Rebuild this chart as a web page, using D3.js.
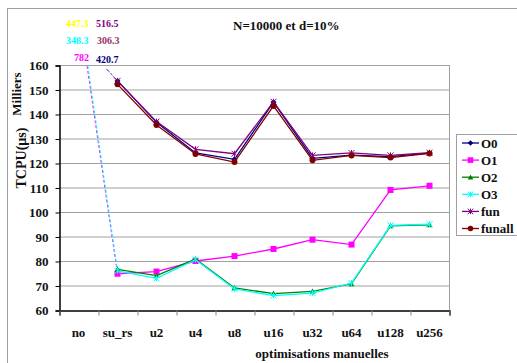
<!DOCTYPE html>
<html>
<head>
<meta charset="utf-8">
<script src="https://cdn.jsdelivr.net/npm/d3@7"></script>
<style>
body { margin: 0; background: #fff; }
</style>
</head>
<body>
<svg></svg>
<script>
const width = 517;
const height = 363;
const font = "'Liberation Serif', 'Times New Roman', serif";

// data
var categories = ["no", "su_rs", "u2", "u4", "u8", "u16", "u32", "u64", "u128", "u256"];
var seriesNames = ["O0", "O1", "O2", "O3", "fun", "funall"];
var seriesColors = ["#000080", "#ff00ff", "#008000", "#00ffff", "#800080", "#800000"];
var seriesMarkers = ["diamond", "square", "triangle", "cross", "cross", "circle"];
// values for su_rs .. u256 (milliers de µs); "no" is off the scale and only labelled
var O0 = [153.5, 136.6, 124.1, 121.5, 144.8, 121.9, 123.2, 122.6, 124.0];
var O1 = [74.8, 75.7, 80.0, 82.0, 84.9, 88.7, 86.7, 109.0, 110.7];
var O2 = [76.6, 74.0, 80.8, 69.0, 66.7, 67.6, 70.7, 94.3, 94.8];
var O3 = [76.0, 72.9, 80.5, 68.6, 65.9, 66.9, 71.0, 94.5, 95.0];
var fun = [153.5, 136.9, 125.6, 123.8, 145.0, 123.1, 124.1, 123.1, 124.2];
var funall = [152.1, 135.5, 123.7, 120.4, 143.3, 121.1, 123.1, 122.2, 123.9];
var noValues = ["420.7", "782", "447.3", "348.3", "516.5", "306.3"];
var noLabelColors = ["#000080", "#ff00ff", "#ffff00", "#00ffff", "#800080", "#993366"];
var yTicks = [60, 70, 80, 90, 100, 110, 120, 130, 140, 150, 160];

var allSeries = [O0, O1, O2, O3, fun, funall];

var margin = {left: 59, top: 65, right: 449, bottom: 310};

var svg = d3.select("svg").attr("width", width).attr("height", height)
    .attr("font-family", font).attr("font-weight", "bold");

// outer frame
svg.append("rect")
    .attr("x", 7.5).attr("y", 8.5)
    .attr("width", 520).attr("height", 400)
    .attr("fill", "none").attr("stroke", "#a0a0a0");

var xBand = d3.scaleBand().domain(categories).range([margin.left, margin.right]);
var xi = d3.scaleLinear().domain([0, categories.length]).range([margin.left, margin.right]);
var y = d3.scaleLinear().domain([60, 160]).range([margin.bottom, margin.top]);

// gridlines
svg.append("g")
    .selectAll("line")
    .data(yTicks.slice(1))
    .enter()
    .append("line")
    .attr("x1", margin.left).attr("x2", margin.right)
    .attr("y1", d => y(d) + 0.5).attr("y2", d => y(d) + 0.5)
    .attr("stroke", "#a0a0a0");

svg.append("line")
    .attr("x1", margin.right + 0.5).attr("x2", margin.right + 0.5)
    .attr("y1", margin.top).attr("y2", margin.bottom)
    .attr("stroke", "#a0a0a0");

// y axis
var yAxis = d3.axisLeft(y).tickValues(yTicks).tickSize(4).tickPadding(7);
var gy = svg.append("g").attr("transform", `translate(${margin.left + 0.5},0.5)`).call(yAxis);
gy.attr("font-family", font).attr("font-size", 13);
gy.select(".domain").attr("stroke", "#000").attr("stroke-width", 1.5);
gy.selectAll("text").attr("fill", "#111");

// x axis with ticks between categories
var xAxis = d3.axisBottom(xi).tickValues(d3.range(0, categories.length + 1)).tickSize(5).tickFormat("");
var gx = svg.append("g").attr("transform", `translate(0.5,${margin.bottom + 0.5})`).call(xAxis);
gx.select(".domain").attr("stroke", "#000").attr("stroke-width", 1.5);
gx.selectAll(".tick line").attr("stroke", "#888");

svg.append("g")
    .selectAll("text")
    .data(categories)
    .enter()
    .append("text")
    .attr("x", d => xBand(d) + xBand.bandwidth() / 2)
    .attr("y", 337)
    .attr("text-anchor", "middle")
    .attr("font-size", 13)
    .attr("fill", "#111")
    .text(d => d);

// titles
svg.append("text").attr("x", 233).attr("y", 30).attr("font-size", 13).attr("fill", "#111")
    .text("N=10000 et d=10%");
svg.append("text").attr("x", 322).attr("y", 358).attr("text-anchor", "middle").attr("font-size", 13).attr("fill", "#111")
    .text("optimisations manuelles");
svg.append("text").attr("transform", "translate(21,94) rotate(-90)").attr("text-anchor", "middle")
    .attr("font-size", 13).attr("fill", "#111").text("Milliers");
svg.append("text").attr("transform", "translate(26,158) rotate(-90)").attr("text-anchor", "middle")
    .attr("font-size", 14).attr("fill", "#111").text("TCPU(µs)");

// labels for off-scale "no" values
var labelPos = [[96, 63], [74, 61], [66, 27], [66, 44], [96, 27], [97, 44]];
svg.append("g")
    .selectAll("text")
    .data(noValues)
    .enter()
    .append("text")
    .attr("x", (d, i) => labelPos[i][0])
    .attr("y", (d, i) => labelPos[i][1])
    .attr("font-size", 10)
    .attr("fill", (d, i) => noLabelColors[i])
    .text(d => d);

// leader lines from the "no" column down to su_rs
var leaders = [
    {s: 1, pos: 0.72, v: 159.6, color: "#ff00ff"},
    {s: 3, pos: 0.74, v: 159.6, color: "#00ffff"},
    {s: 0, pos: 1.23, v: 158.2, color: "#000080"},
    {s: 4, pos: 1.21, v: 158.4, color: "#b070d0"}
];
svg.append("g")
    .selectAll("line")
    .data(leaders)
    .enter()
    .append("line")
    .attr("x1", d => xi(d.pos)).attr("y1", d => y(d.v))
    .attr("x2", xi(1.5)).attr("y2", d => y(allSeries[d.s][0]))
    .attr("stroke", d => d.color)
    .attr("stroke-width", 1)
    .attr("stroke-dasharray", "3,2");

// markers
function marker(g, type, color, s) {
    if (type == "diamond") {
        g.append("path").attr("d", `M0,${-s}L${s},0L0,${s}L${-s},0Z`).attr("fill", color);
    } else if (type == "square") {
        g.append("rect").attr("x", -s).attr("y", -s).attr("width", 2 * s).attr("height", 2 * s).attr("fill", color);
    } else if (type == "triangle") {
        g.append("path").attr("d", `M0,${-s}L${s},${s * 0.8}L${-s},${s * 0.8}Z`).attr("fill", color);
    } else if (type == "circle") {
        g.append("circle").attr("r", s).attr("fill", color);
    } else {
        g.append("path").attr("d", `M${-s},${-s}L${s},${s}M${-s},${s}L${s},${-s}M0,${-s}L0,${s}`)
            .attr("stroke", color).attr("stroke-width", 1).attr("fill", "none");
    }
}

var line = d3.line().x((d, i) => xi(i + 1.5)).y(d => y(d));

allSeries.forEach(function (vals, k) {
    var g = svg.append("g").attr("class", "series");
    g.append("path")
        .attr("d", line(vals))
        .attr("fill", "none")
        .attr("stroke", seriesColors[k])
        .attr("stroke-width", 1.3);
    vals.forEach(function (v, i) {
        var m = g.append("g").attr("transform", `translate(${xi(i + 1.5)},${y(v)})`);
        marker(m, seriesMarkers[k], seriesColors[k], 3);
    });
});

// legend
var legend = svg.append("g");
legend.append("rect")
    .attr("x", 456.5).attr("y", 134.5).attr("width", 70).attr("height", 101)
    .attr("fill", "#fff").attr("stroke", "#a0a0a0");
seriesNames.forEach(function (name, k) {
    var ly = 143 + k * 17.1;
    legend.append("line").attr("x1", 462).attr("x2", 479).attr("y1", ly).attr("y2", ly)
        .attr("stroke", seriesColors[k]).attr("stroke-width", 1.3);
    var m = legend.append("g").attr("transform", `translate(470.5,${ly})`);
    marker(m, seriesMarkers[k], seriesColors[k], 2.8);
    legend.append("text").attr("x", 481).attr("y", ly + 4.5).attr("font-size", 13).attr("fill", "#111").text(name);
});
</script>
</body>
</html>
